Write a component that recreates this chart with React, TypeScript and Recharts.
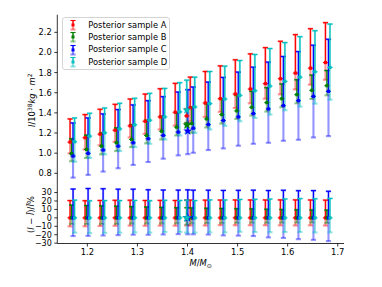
import React from 'react';
import { ComposedChart, Scatter, XAxis, YAxis, ErrorBar, Legend, Label, Symbols } from 'recharts';

// ---------------- data ----------------
const masses = [1.17, 1.2, 1.23, 1.26, 1.29, 1.32, 1.35, 1.38, 1.41, 1.44, 1.47, 1.5, 1.53, 1.56, 1.59, 1.62, 1.65, 1.68];

const aCenter = [1.11, 1.153, 1.189, 1.228, 1.271, 1.317, 1.36, 1.406, 1.449, 1.498, 1.541, 1.587, 1.637, 1.69, 1.739, 1.795, 1.844, 1.9];
const aLow = [0.998, 1.037, 1.077, 1.113, 1.156, 1.192, 1.235, 1.274, 1.317, 1.36, 1.41, 1.449, 1.495, 1.541, 1.584, 1.633, 1.68, 1.729];
const aHigh = [1.34, 1.383, 1.436, 1.485, 1.538, 1.587, 1.64, 1.693, 1.755, 1.811, 1.867, 1.927, 1.986, 2.048, 2.111, 2.177, 2.236, 2.296];

const bCenter = [0.995, 1.037, 1.07, 1.103, 1.136, 1.176, 1.218, 1.258, 1.294, 1.34, 1.383, 1.42, 1.456, 1.502, 1.541, 1.581, 1.624, 1.67];
const bLow = [0.919, 0.952, 0.988, 1.021, 1.06, 1.097, 1.136, 1.176, 1.202, 1.255, 1.294, 1.34, 1.373, 1.413, 1.456, 1.495, 1.538, 1.574];
const bHigh = [1.143, 1.179, 1.202, 1.251, 1.284, 1.327, 1.367, 1.4, 1.459, 1.492, 1.538, 1.574, 1.614, 1.65, 1.687, 1.729, 1.775, 1.821];

const cCenter = [0.971, 0.998, 1.031, 1.07, 1.103, 1.143, 1.176, 1.209, 1.248, 1.284, 1.324, 1.36, 1.393, 1.439, 1.472, 1.521, 1.564, 1.614];
const cLow = [0.757, 0.784, 0.817, 0.85, 0.883, 0.912, 0.945, 0.978, 1.004, 1.031, 1.047, 1.074, 1.093, 1.103, 1.123, 1.133, 1.156, 1.169];
const cHigh = [1.3, 1.35, 1.39, 1.433, 1.479, 1.521, 1.561, 1.607, 1.657, 1.706, 1.752, 1.805, 1.854, 1.904, 1.96, 2.009, 2.072, 2.131];

const dCenter = [1.113, 1.169, 1.202, 1.241, 1.281, 1.327, 1.36, 1.41, 1.459, 1.492, 1.538, 1.574, 1.62, 1.666, 1.713, 1.755, 1.808, 1.851];
const dLow = [0.915, 0.952, 0.988, 1.021, 1.06, 1.093, 1.136, 1.176, 1.202, 1.235, 1.271, 1.317, 1.35, 1.383, 1.426, 1.462, 1.492, 1.531];
const dHigh = [1.35, 1.396, 1.449, 1.495, 1.545, 1.594, 1.643, 1.7, 1.755, 1.811, 1.864, 1.92, 1.98, 2.039, 2.098, 2.157, 2.216, 2.282];

// relative deviation (%) – upper / lower ends, bottom panel
const aResHigh = [20.5, 20.3, 20.6, 20.8, 20.9, 20.6, 20.7, 20.6, 21.0, 21.0, 21.1, 21.2, 21.2, 21.2, 21.3, 21.3, 21.2, 21.0];
const aResLow = [-10.1, -10.0, -9.6, -9.4, -9.2, -9.4, -9.2, -9.3, -9.1, -9.1, -8.7, -8.8, -8.8, -8.8, -8.9, -9.0, -8.9, -9.1];
const bResHigh = [15.2, 14.6, 14.2, 13.8, 13.3, 12.9, 12.4, 12.0, 11.8, 11.4, 11.1, 10.8, 10.6, 10.2, 9.9, 9.6, 9.4, 9.2];
const bResLow = [-7.2, -7.4, -7.3, -7.1, -6.8, -6.7, -6.6, -6.5, -6.6, -6.3, -6.3, -5.9, -5.8, -5.9, -5.7, -5.6, -5.5, -6.0];
const cResHigh = [34.2, 34.8, 34.5, 34.0, 34.0, 33.3, 33.0, 32.9, 32.8, 32.8, 32.5, 32.6, 32.8, 32.4, 32.7, 32.2, 32.3, 31.5];
const cResLow = [-21.6, -21.4, -20.9, -20.5, -20.0, -20.1, -19.7, -19.3, -19.5, -19.8, -20.8, -21.1, -21.6, -23.2, -23.8, -25.3, -26.1, -27.6];
const dResHigh = [21.0, 20.2, 20.5, 20.5, 20.6, 20.3, 20.8, 20.6, 20.5, 21.3, 21.2, 21.8, 22.0, 22.3, 22.4, 22.8, 22.6, 23.0];
const dResLow = [-17.6, -18.2, -17.8, -17.6, -17.3, -17.5, -16.8, -16.7, -17.5, -17.2, -17.3, -16.5, -16.7, -17.0, -16.8, -16.8, -17.3, -17.2];

// special (star-marked) group at M = 1.40 : order A, B, C, D
const specialMass = [1.3985, 1.399, 1.4005, 1.3985];
const specialCenter = [1.37, 1.28, 1.22, 1.43];
const specialLow = [1.3, 1.255, 0.99, 1.2];
const specialHigh = [1.44, 1.3, 1.63, 1.725];
const specialResHigh = [21.0, 12.0, 33.2, 21.0];
const specialResLow = [-9.0, -8.0, -19.5, -17.5];

const seriesNames = ['Posterior sample A', 'Posterior sample B', 'Posterior sample C', 'Posterior sample D'];
const seriesShift = [-0.0045, -0.0015, 0.0015, 0.0045];

const xTicks = [1.2, 1.3, 1.4, 1.5, 1.6, 1.7];
const topTicks = [0.8, 1.0, 1.2, 1.4, 1.6, 1.8, 2.0, 2.2];
const resTicks = [-30, -20, -10, 0, 10, 20, 30];

// ---------------- style ----------------
const FONT = "'DejaVu Sans', sans-serif";
const FS = 8.33;
const colors = ['#ff0000', '#008000', '#0000ff', '#00bfbf'];
const faded = ['rgba(255,0,0,0.42)', 'rgba(0,128,0,0.42)', 'rgba(0,0,255,0.42)', 'rgba(0,191,191,0.42)'];

const W = 382;
const H = 287;
const PLOT_LEFT = 57.3;
const PLOT_RIGHT = 344;
const TOP_Y = 14.7;
const DIV_Y = 185.8;
const BOT_Y = 243.5;

const xDomain: [number, number] = [1.14, 1.7125];
const topDomain: [number, number] = [0.676, 2.375];
const resDomain: [number, number] = [-30.4, 38.0];

const centers = [aCenter, bCenter, cCenter, dCenter];
const lows = [aLow, bLow, cLow, dLow];
const highs = [aHigh, bHigh, cHigh, dHigh];
const resHighs = [aResHigh, bResHigh, cResHigh, dResHigh];
const resLows = [aResLow, bResLow, cResLow, dResLow];

type Pt = { x: number; y: number; full: [number, number]; up: [number, number] };

function topSeries(s: number): Pt[] {
  return masses.map((m, i) => {
    const c = centers[s][i];
    return { x: m + seriesShift[s], y: c, full: [c - lows[s][i], highs[s][i] - c], up: [0, highs[s][i] - c] };
  });
}
function resSeries(s: number): Pt[] {
  return masses.map((m, i) => ({
    x: m + seriesShift[s],
    y: 0,
    full: [-resLows[s][i], resHighs[s][i]],
    up: [0, resHighs[s][i]],
  }));
}
function topSpecial(s: number): Pt[] {
  const c = specialCenter[s];
  return [{ x: specialMass[s], y: c, full: [c - specialLow[s], specialHigh[s] - c], up: [0, specialHigh[s] - c] }];
}
function resSpecial(s: number): Pt[] {
  return [{ x: specialMass[s], y: 0, full: [-specialResLow[s], specialResHigh[s]], up: [0, specialResHigh[s]] }];
}

const fmt1 = (v: number) => v.toFixed(1);
const fmtInt = (v: number) => String(v).replace('-', '\u2212');

const tickStyle = { fontFamily: FONT, fontSize: FS, fill: '#000' };
const resTickStyle = { fontFamily: FONT, fontSize: 8, fill: '#000' };
const axisLine = { stroke: '#000', strokeWidth: 0.8 };
const tickLine = { stroke: '#000', strokeWidth: 0.8 };

const squareShape = (props: any) => {
  if (props.cx == null || props.cy == null) return <g />;
  return <rect x={props.cx - 1.6} y={props.cy - 1.6} width={3.2} height={3.2} fill={props.fill} />;
};
const starShape = (props: any) => {
  if (props.cx == null || props.cy == null) return <g />;
  return <Symbols type="star" size={26} cx={props.cx} cy={props.cy} fill={props.fill} />;
};

function renderScatter(key: string, data: Pt[], s: number, shape: any) {
  return (
    <Scatter key={key} data={data} fill={colors[s]} shape={shape} isAnimationActive={false} legendType="none">
      <ErrorBar dataKey="full" direction="y" width={2.6} stroke={faded[s]} strokeWidth={2.1} />
      <ErrorBar dataKey="up" direction="y" width={2.6} stroke={colors[s]} strokeWidth={1.1} />
    </Scatter>
  );
}

const TopYTitle = (props: any) => {
  const vb = props.viewBox || { x: 0, y: 0, height: 0 };
  const cx = vb.x + 32;
  const cy = vb.y + vb.height / 2;
  return (
    <text x={cx} y={cy} transform={`rotate(-90 ${cx} ${cy})`} textAnchor="middle" dominantBaseline="central" fontFamily={FONT} fontSize={FS} fill="#000">
      <tspan fontStyle="italic">I</tspan>
      <tspan>/10</tspan>
      <tspan dy={-3} fontSize={6}>38</tspan>
      <tspan dy={3} fontStyle="italic">kg</tspan>
      <tspan> · </tspan>
      <tspan fontStyle="italic">m</tspan>
      <tspan dy={-3} fontSize={6}>2</tspan>
    </text>
  );
};

const ResYTitle = (props: any) => {
  const vb = props.viewBox || { x: 0, y: 0, height: 0 };
  const cx = vb.x + 31;
  const cy = vb.y + vb.height / 2;
  return (
    <text x={cx} y={cy} transform={`rotate(-90 ${cx} ${cy})`} textAnchor="middle" dominantBaseline="central" fontFamily={FONT} fontSize={FS} fill="#000">
      <tspan>(</tspan>
      <tspan fontStyle="italic">I</tspan>
      <tspan> − </tspan>
      <tspan fontStyle="italic">Ī</tspan>
      <tspan>)/</tspan>
      <tspan fontStyle="italic">Ī</tspan>
      <tspan>%</tspan>
    </text>
  );
};

const XTitle = (props: any) => {
  const vb = props.viewBox || { x: 0, y: 0, width: 0 };
  const cx = vb.x + vb.width / 2;
  const cy = vb.y + 19.8;
  return (
    <text x={cx} y={cy} textAnchor="middle" dominantBaseline="central" fontFamily={FONT} fontSize={FS} fill="#000">
      <tspan fontStyle="italic">M</tspan>
      <tspan>/</tspan>
      <tspan fontStyle="italic">M</tspan>
      <tspan dy={2} fontSize={6}>⊙</tspan>
    </text>
  );
};

const LegendIcon = ({ s }: { s: number }) => (
  <svg width={14} height={12} style={{ display: 'block' }}>
    <line x1={7} y1={1.5} x2={7} y2={10.5} stroke={faded[s]} strokeWidth={2.1} />
    <line x1={4.4} y1={10.5} x2={9.6} y2={10.5} stroke={faded[s]} strokeWidth={2.1} />
    <line x1={7} y1={1.5} x2={7} y2={6} stroke={colors[s]} strokeWidth={1.1} />
    <line x1={4.4} y1={1.5} x2={9.6} y2={1.5} stroke={colors[s]} strokeWidth={1.1} />
    <rect x={5.5} y={4.5} width={3} height={3} fill={colors[s]} />
  </svg>
);

const renderLegend = () => (
  <div
    style={{
      boxSizing: 'border-box',
      width: 108.5,
      height: 53.5,
      border: '1px solid #d4d4d4',
      borderRadius: 3,
      background: 'rgba(255,255,255,0.85)',
      paddingTop: 1.2,
      fontFamily: FONT,
      fontSize: FS,
      color: '#000',
      lineHeight: '12.3px',
    }}
  >
    {seriesNames.map((n, i) => (
      <div key={n} style={{ display: 'flex', alignItems: 'center', height: 12.3, paddingLeft: 3, whiteSpace: 'nowrap' }}>
        <LegendIcon s={i} />
        <span style={{ marginLeft: 8.6 }}>{n}</span>
      </div>
    ))}
  </div>
);

export default function App() {
  const topHeight = DIV_Y;
  const botXAxisHeight = 30;
  return (
    <div style={{ position: 'absolute', left: 0, top: 0, width: W, height: H, background: '#fff', overflow: 'hidden' }}>
      <div style={{ position: 'absolute', left: 0, top: 0 }}>
        <ComposedChart width={W} height={topHeight} margin={{ top: TOP_Y, right: W - PLOT_RIGHT, bottom: 0, left: 0 }}>
          <XAxis xAxisId={0} type="number" dataKey="x" domain={xDomain} allowDataOverflow hide />
          <XAxis xAxisId="t" orientation="top" type="number" domain={xDomain} allowDataOverflow height={0} tick={false} tickLine={false} axisLine={axisLine} />
          <YAxis
            yAxisId={0}
            type="number"
            dataKey="y"
            domain={topDomain}
            allowDataOverflow
            ticks={topTicks}
            tickFormatter={fmt1}
            width={PLOT_LEFT}
            tick={tickStyle}
            tickSize={3}
            tickMargin={2.5}
            axisLine={axisLine}
            tickLine={tickLine}
            interval={0}
          >
            <Label content={TopYTitle} />
          </YAxis>
          <YAxis yAxisId="r" orientation="right" type="number" domain={topDomain} allowDataOverflow width={0} tick={false} tickLine={false} axisLine={axisLine} />
          {[0, 1, 2, 3].map((s) => renderScatter(`top${s}`, topSeries(s), s, squareShape))}
          {renderScatter('tsA', topSpecial(0), 0, squareShape)}
          {[1, 2, 3].map((s) => renderScatter(`ts${s}`, topSpecial(s), s, starShape))}
          <Legend
            content={renderLegend}
            layout="vertical"
            align="center"
            verticalAlign="middle"
            wrapperStyle={{ left: 61.7, top: 16.7, width: 108.5, height: 53.5 }}
          />
        </ComposedChart>
      </div>
      <div style={{ position: 'absolute', left: 0, top: 0 }}>
        <ComposedChart width={W} height={H} margin={{ top: DIV_Y, right: W - PLOT_RIGHT, bottom: H - BOT_Y - botXAxisHeight, left: 0 }}>
          <XAxis
            xAxisId={0}
            type="number"
            dataKey="x"
            domain={xDomain}
            allowDataOverflow
            ticks={xTicks}
            tickFormatter={fmt1}
            height={botXAxisHeight}
            tick={tickStyle}
            tickSize={3}
            tickMargin={3}
            axisLine={axisLine}
            tickLine={tickLine}
            interval={0}
          >
            <Label content={XTitle} />
          </XAxis>
          <XAxis xAxisId="t" orientation="top" type="number" domain={xDomain} allowDataOverflow height={0} tick={false} tickLine={false} axisLine={axisLine} />
          <YAxis
            yAxisId={0}
            type="number"
            dataKey="y"
            domain={resDomain}
            allowDataOverflow
            ticks={resTicks}
            tickFormatter={fmtInt}
            width={PLOT_LEFT}
            tick={resTickStyle}
            tickSize={3}
            tickMargin={2.5}
            axisLine={axisLine}
            tickLine={tickLine}
            interval={0}
          >
            <Label content={ResYTitle} />
          </YAxis>
          <YAxis yAxisId="r" orientation="right" type="number" domain={resDomain} allowDataOverflow width={0} tick={false} tickLine={false} axisLine={axisLine} />
          {[0, 1, 2, 3].map((s) => renderScatter(`res${s}`, resSeries(s), s, squareShape))}
          {renderScatter('rsA', resSpecial(0), 0, squareShape)}
          {[1, 2, 3].map((s) => renderScatter(`rs${s}`, resSpecial(s), s, starShape))}
        </ComposedChart>
      </div>
    </div>
  );
}
